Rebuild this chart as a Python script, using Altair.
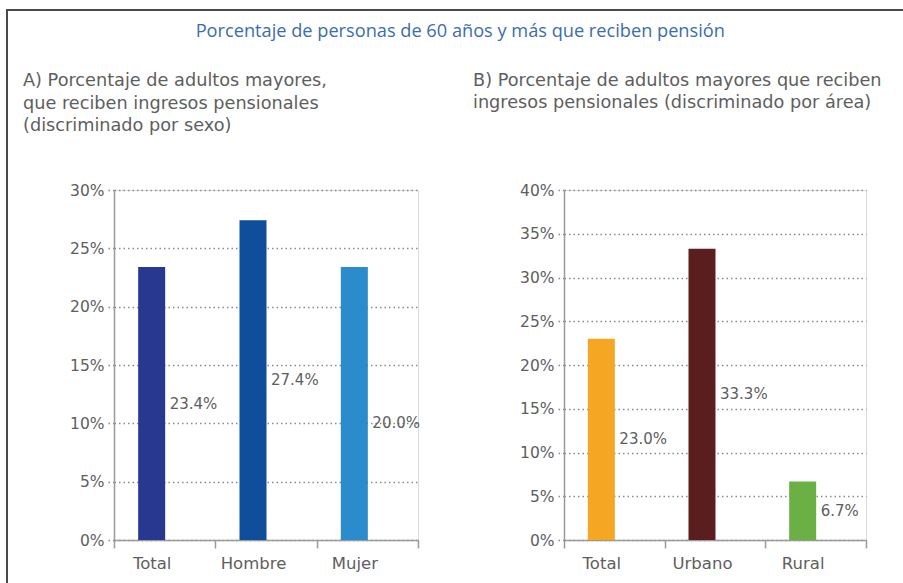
import altair as alt
import pandas as pd

# ---------------- data ----------------
main_title = "Porcentaje de personas de 60 años y más que reciben pensión"
title_a = ["A) Porcentaje de adultos mayores,",
           "que reciben ingresos pensionales",
           "(discriminado por sexo)"]
title_b = ["B) Porcentaje de adultos mayores que reciben",
           "ingresos pensionales (discriminado por área)"]

cats_a = ["Total", "Hombre", "Mujer"]
bars_a = [23.4, 27.4, 23.4]          # bar heights as drawn
labels_a = [23.4, 27.4, 20.0]        # printed values
colors_a = ["#283891", "#0e4e9b", "#2a8ccd"]
ticks_a = [0, 5, 10, 15, 20, 25, 30]

cats_b = ["Total", "Urbano", "Rural"]
bars_b = [23.0, 33.3, 6.7]
labels_b = [23.0, 33.3, 6.7]
colors_b = ["#f5a623", "#5a1e1e", "#6ab045"]
ticks_b = [0, 5, 10, 15, 20, 25, 30, 35, 40]

FONT = "DejaVu Sans"
TITLE_FONT = "Open Sans"
GRAY = "#5e5e5e"
AXIS_GRAY = "#9a9a9a"


def panel(cats, bars, labels, colors, ticks, title, title_offset, title_dx, width, height):
    df = pd.DataFrame({"cat": cats, "bar": bars, "lab": labels, "color": colors})
    x_axis = alt.Axis(
        title=None, labelAngle=0, labelFont=FONT, labelFontSize=16.5, labelColor=GRAY,
        labelOffset=-13, labelPadding=7, tickBand="extent", tickSize=8,
        tickColor=AXIS_GRAY, tickWidth=1.5, domainColor=AXIS_GRAY, domainWidth=1.5,
        grid=False,
    )
    y_axis = alt.Axis(
        title=None, values=ticks, labelExpr="datum.value + '%'", labelFont=FONT,
        labelFontSize=15.5, labelColor=GRAY, labelPadding=2,
        grid=True, gridDash=[1.5, 3], gridColor="#8a8a8a", gridWidth=1.5,
        tickSize=8, tickDash=[1.5, 3], tickColor="#8a8a8a", tickWidth=1.5,
        domainColor=AXIS_GRAY, domainWidth=1.5,
    )
    x = alt.X("cat:N", sort=cats, scale=alt.Scale(paddingInner=0, paddingOuter=0), axis=x_axis)
    base = alt.Chart(df)
    bar = base.mark_bar(size=27, xOffset=-13).encode(
        x=x,
        y=alt.Y("bar:Q", scale=alt.Scale(domain=[0, ticks[-1]], nice=False), axis=y_axis),
        color=alt.Color("color:N", scale=None),
    )
    text = base.transform_calculate(
        ly="datum.lab / 2", txt="format(datum.lab, '.1f') + '%'"
    ).mark_text(
        align="left", baseline="middle", dx=5, font=FONT, fontSize=15, color=GRAY
    ).encode(
        x=alt.X("cat:N", sort=cats),
        y=alt.Y("ly:Q"),
        text="txt:N",
    )
    return alt.layer(bar, text).properties(
        width=width, height=height,
        title=alt.TitleParams(
            title, anchor="start", frame="group", dx=title_dx, offset=title_offset,
            font=FONT, fontSize=17.7, fontWeight="normal", color=GRAY, lineHeight=22.5,
        ),
    )


pa = panel(cats_a, bars_a, labels_a, colors_a, ticks_a, title_a, 48, -91, 304, 350)
pb = panel(cats_b, bars_b, labels_b, colors_b, ticks_b, title_b, 71, -91, 302, 350)

chart = alt.hconcat(pa, pb, spacing=146, bounds="flush").properties(
    title=alt.TitleParams(
        main_title, anchor="middle", font=TITLE_FONT, fontSize=18.2,
        fontWeight="normal", color="#3a6db0", offset=30, dx=8,
    ),
    padding={"left": 14, "top": 11, "right": 5, "bottom": 5},
).configure_view(stroke=None).configure(background="white")

chart.save(
    "out.html",
    embed_options={
        "renderer": "svg",
        "actions": False,
        "defaultStyle": "#vis.vega-embed{width:auto !important;display:block !important;"
                        "margin:9px 0 0 6px;border-top:2px solid #4a4a4a;"
                        "border-left:2px solid #4a4a4a;height:574px;box-sizing:border-box;}",
    },
)
